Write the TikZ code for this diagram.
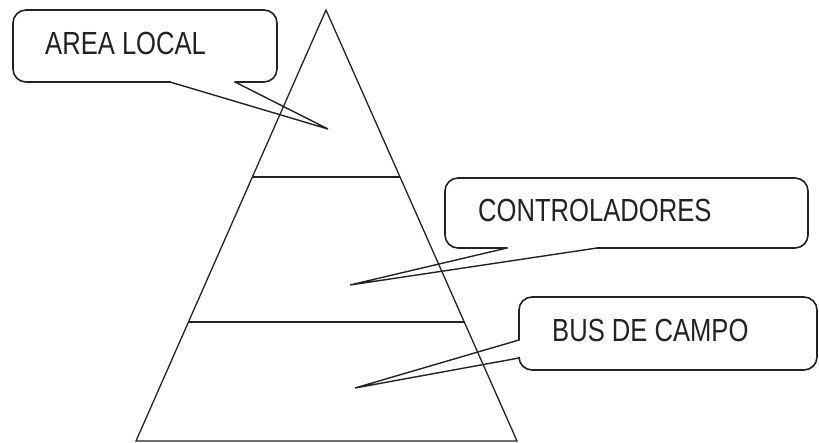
\documentclass[tikz,border=0pt]{standalone}
\usepackage{fontspec}
\usepackage{tikz}
\usetikzlibrary{calc}
\newfontfamily\labelfont[FakeStretch=0.8]{Liberation Sans}
\definecolor{inkGray}{RGB}{34,34,34}

\begin{document}
\begin{tikzpicture}[
  x=1pt, y=-1pt,
  lbl/.style={font=\labelfont\fontsize{32}{36}\selectfont, anchor=base west,
    inner sep=0pt, text=inkGray},
  balloon/.style={draw=inkGray, line width=1.6pt, rounded corners=13pt, line cap=round},
  pointer/.style={draw=inkGray, line width=1.4pt, line cap=round},
  level/.style={draw=inkGray, line width=1.3pt},
]
  \useasboundingbox (0,0) rectangle (819,443);

  % pyramid
  \coordinate (apex) at (326,10);
  \coordinate (baseL) at (136,441);
  \coordinate (baseR) at (517,441);
  \coordinate (upL) at ($(apex)!0.3875!(baseL)$);
  \coordinate (upR) at ($(apex)!0.3875!(baseR)$);
  \coordinate (lowL) at ($(apex)!0.724!(baseL)$);
  \coordinate (lowR) at ($(apex)!0.724!(baseR)$);
  \draw[level] (apex) -- (baseL) -- (baseR) -- cycle;
  \draw[level] (upL) -- (upR);
  \draw[level] (lowL) -- (lowR);

  % callouts
  \node[lbl] (area) at (45,55) {AREA LOCAL};
  \coordinate (areaTip) at (328,129);
  \draw[balloon] (235,82) -- (277,82) -- (277,10) -- (13,10) -- (13,82) -- (170,82);
  \draw[pointer] (170,82) -- (areaTip) -- (235,82);

  \node[lbl] (ctrl) at (478,222) {CONTROLADORES};
  \coordinate (ctrlTip) at (350,285);
  \draw[balloon] (597,248) -- (808,248) -- (808,178) -- (445,178) -- (445,248) -- (507,248);
  \draw[pointer] (507,248) -- (ctrlTip) -- (597,248);

  \node[lbl] (bus) at (552,342) {BUS DE CAMPO};
  \coordinate (busTip) at (355,388);
  \draw[balloon] (519,358) -- (519,370) -- (817,370) -- (817,297) -- (519,297) -- (519,340);
  \draw[pointer] (519,340) -- (busTip) -- (519,358);
\end{tikzpicture}
\end{document}
